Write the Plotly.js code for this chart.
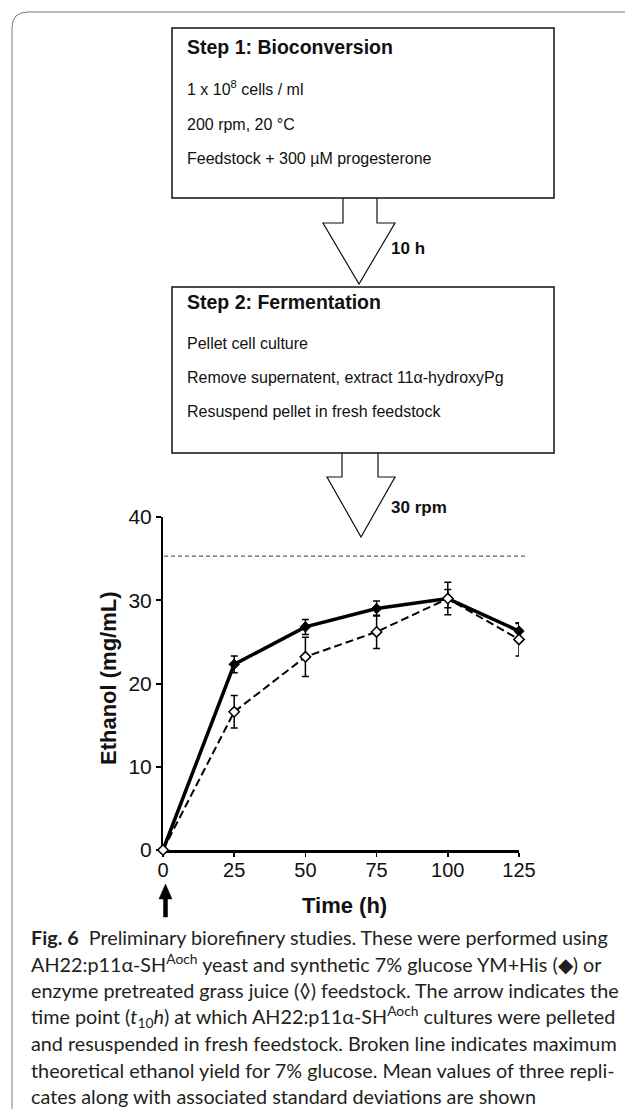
<!DOCTYPE html>
<html>
<head>
<meta charset="utf-8">
<script src="https://cdn.plot.ly/plotly-3.0.1.min.js"></script>
<style>
  html, body { margin: 0; padding: 0; background: #fff; }
  #chart { width: 625px; height: 1109px; }
</style>
</head>
<body>
<div id="chart"></div>
<script>
// ---------------- data ----------------
const times = [0, 25, 50, 75, 100, 125];
const ymHis = [0, 22.3, 26.8, 29.0, 30.2, 26.3];
const ymHisSD = [0, 1.0, 0.9, 0.9, 1.1, 0.9];
const grassJuice = [0, 16.6, 23.2, 26.2, 30.2, 25.3];
const grassJuiceSD = [0, 1.95, 2.35, 2.0, 1.95, 2.0];
const maxYield = [35.3];
const xTickVals = [0, 25, 50, 75, 100, 125];
const yTickVals = [0, 10, 20, 30, 40];

// texts
const step1Lines = ["1 x 10<sup>8</sup> cells / ml", "200 rpm, 20 \u00B0C", "Feedstock + 300 \u00B5M progesterone"];
const step2Lines = ["Pellet cell culture", "Remove supernatent, extract 11\u03B1-hydroxyPg", "Resuspend pellet in fresh feedstock"];
const captionLines = [
  "<b>Fig. 6</b>\u00A0\u00A0Preliminary biorefinery studies. These were performed using",
  "AH22:p11\u03B1-SH<sup>Aoch</sup> yeast and synthetic 7% glucose YM+His (\u25C6) or",
  "enzyme pretreated grass juice (\u25CA) feedstock. The arrow indicates the",
  "time point (<i>t</i><sub>10</sub><i>h</i>) at which AH22:p11\u03B1-SH<sup>Aoch</sup> cultures were pelleted",
  "and resuspended in fresh feedstock. Broken line indicates maximum",
  "theoretical ethanol yield for 7% glucose. Mean values of three repli-",
  "cates along with associated standard deviations are shown"
];

// ---------------- layout helpers (pixel -> paper) ----------------
const W = 625, H = 1109;
const L = 163, R = 519, T = 517, B = 850;
const px = x => (x - L) / (R - L);
const py = y => (B - y) / (B - T);
const pt = (x, y) => px(x).toFixed(5) + "," + py(y).toFixed(5);
const pathOf = (pts, close) => "M" + pts.map(p => pt(p[0], p[1])).join(" L") + (close ? " Z" : "");

const armFont = "Liberation Sans, Arial, Helvetica, sans-serif";
const narrowFont = "Liberation Sans Narrow, Arial Narrow, Liberation Sans, Arial, sans-serif";
const capFont = "Lato, Open Sans, Noto Sans, sans-serif";

const shapes = [];
const annotations = [];

// outer frame (rounded top-left)
shapes.push({type: "path", xref: "paper", yref: "paper",
  path: "M" + pt(12, H) + " L" + pt(12, 28) + " Q" + pt(12, 12) + " " + pt(28, 12) + " L" + pt(W, 12),
  line: {color: "#7a7a7a", width: 1}});

// box 1 & 2
[[28, 198], [287, 453]].forEach(b => {
  shapes.push({type: "rect", xref: "paper", yref: "paper",
    x0: px(172), x1: px(554), y0: py(b[0]), y1: py(b[1]),
    line: {color: "#111", width: 1.5}, fillcolor: "rgba(0,0,0,0)"});
});

// block arrows
shapes.push({type: "path", xref: "paper", yref: "paper",
  path: pathOf([[343, 198], [343, 223], [323, 223], [359, 284], [395, 223], [377, 223], [377, 198]], false),
  line: {color: "#111", width: 1.2}});
shapes.push({type: "path", xref: "paper", yref: "paper",
  path: pathOf([[342, 453], [342, 477], [327, 477], [361, 537], [395, 477], [378, 477], [378, 453]], false),
  line: {color: "#111", width: 1.2}});

// max theoretical yield (broken line)
shapes.push({type: "line", xref: "paper", yref: "y",
  x0: px(164), x1: px(525), y0: maxYield[0], y1: maxYield[0],
  line: {color: "#333", width: 1, dash: "4px,3px"}});

// up arrow under t=0
shapes.push({type: "path", xref: "paper", yref: "paper",
  path: pathOf([[163.5, 917], [163.5, 899], [159, 899], [165.5, 884], [172, 899], [167.5, 899], [167.5, 917]], true),
  fillcolor: "#000", line: {color: "#000", width: 0.5}});

function txt(x, y, text, size, opts) {
  annotations.push(Object.assign({
    xref: "paper", yref: "paper", x: px(x), y: py(y), text: text,
    showarrow: false, xanchor: "left", yanchor: "middle",
    font: {family: armFont, size: size, color: "#111"}
  }, opts || {}));
}

// box 1 text
txt(185, 47, "<b>Step 1: Bioconversion</b>", 19.5);
[88, 124, 158].forEach((y, i) => txt(185, y, step1Lines[i], 16));
txt(389, 248, "<b>10 h</b>", 17);
// box 2 text
txt(185, 302, "<b>Step 2: Fermentation</b>", 19.5);
[343, 377, 412].forEach((y, i) => txt(185, y, step2Lines[i], 16));
txt(389, 507, "<b>30 rpm</b>", 17);

// axis titles
txt(108, 678, "<b>Ethanol (mg/mL)</b>", 22, {xanchor: "center", textangle: -90});
txt(344, 905, "<b>Time (h)</b>", 22, {xanchor: "center"});

// caption
const capY0 = 936.5, capDy = 26.6;
captionLines.forEach((s, i) => txt(29, capY0 + i * capDy, s, 19.8, {font: {family: capFont, size: 19.8, color: "#231f20"}}));

// ---------------- traces ----------------
const traces = [
  {
    x: times, y: ymHis, type: "scatter", mode: "lines+markers", name: "YM+His",
    line: {color: "#000", width: 3.5},
    marker: {symbol: "diamond", size: 8, color: "#000", line: {color: "#000", width: 1}},
    error_y: {type: "data", array: ymHisSD, visible: true, color: "#000", thickness: 1.5, width: 3.5},
    cliponaxis: false
  },
  {
    x: times, y: grassJuice, type: "scatter", mode: "lines+markers", name: "Grass juice",
    line: {color: "#000", width: 2, dash: "8px,4px"},
    marker: {symbol: "diamond", size: 8, color: "#fff", line: {color: "#000", width: 1.5}},
    error_y: {type: "data", array: grassJuiceSD, visible: true, color: "#000", thickness: 1.5, width: 3.5},
    cliponaxis: false
  }
];

const layout = {
  width: W, height: H,
  margin: {l: L, r: W - R, t: T, b: H - B, pad: 0},
  paper_bgcolor: "#fff", plot_bgcolor: "#fff",
  showlegend: false,
  xaxis: {
    range: [0, 125], tickvals: xTickVals, ticktext: xTickVals.map(String),
    showgrid: false, zeroline: false, showline: true, linecolor: "#000", linewidth: 2.5,
    ticks: "outside", ticklen: 4, tickwidth: 1.5, tickcolor: "#000", ticklabelstandoff: -4,
    tickfont: {family: narrowFont, size: 20, color: "#111"}, layer: "below traces", fixedrange: true
  },
  yaxis: {
    range: [0, 40], tickvals: yTickVals, ticktext: yTickVals.map(String),
    showgrid: false, zeroline: false, showline: true, linecolor: "#000", linewidth: 2,
    ticks: "outside", ticklen: 5, tickwidth: 2, tickcolor: "#000",
    tickfont: {family: narrowFont, size: 21, color: "#111"}, layer: "below traces", fixedrange: true
  },
  shapes: shapes,
  annotations: annotations
};

Plotly.newPlot("chart", traces, layout, {displayModeBar: false, staticPlot: true});
</script>
</body>
</html>
